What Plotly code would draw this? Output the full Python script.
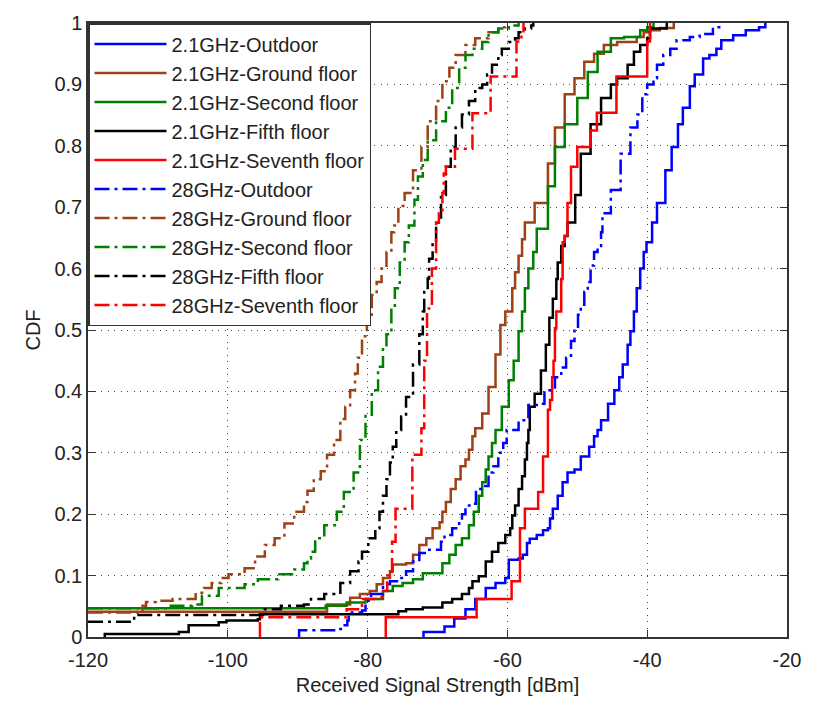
import plotly.graph_objects as go

# ---------------- data ----------------
series_names = [
    "2.1GHz-Outdoor", "2.1GHz-Ground floor", "2.1GHz-Second floor",
    "2.1GHz-Fifth floor", "2.1GHz-Seventh floor",
    "28GHz-Outdoor", "28GHz-Ground floor", "28GHz-Second floor",
    "28GHz-Fifth floor", "28GHz-Seventh floor",
]

# 2.1 GHz - Outdoor
out21_x = [-72.0, -72.0, -69.0, -67.6, -66.0, -64.6, -63.1, -61.7, -60.3, -59.8, -58.4, -57.8, -57.2,
           -56.8, -55.8, -54.9, -54.2, -53.9, -53.5, -52.8, -52.1, -51.4, -50.4, -49.5, -48.3, -47.6,
           -47.1, -46.6, -45.6, -44.7, -44.0, -43.5, -42.8, -42.4, -41.9, -41.5, -41.0, -40.5, -40.1,
           -39.3, -38.6, -37.4, -36.5, -35.6, -34.9, -33.9, -33.2, -32.0, -31.1, -30.1, -29.4, -27.7,
           -25.9, -24.0, -23.1]
out21_y = [0.0, 0.008, 0.017, 0.030, 0.045, 0.062, 0.080, 0.088, 0.096, 0.126, 0.128, 0.134, 0.153,
           0.160, 0.166, 0.174, 0.177, 0.193, 0.209, 0.230, 0.252, 0.268, 0.273, 0.294, 0.310, 0.327,
           0.337, 0.353, 0.380, 0.402, 0.423, 0.444, 0.476, 0.498, 0.530, 0.568, 0.600, 0.627, 0.643,
           0.675, 0.707, 0.760, 0.798, 0.835, 0.862, 0.897, 0.916, 0.942, 0.948, 0.958, 0.972, 0.980,
           0.988, 0.993, 1.0]

# 2.1 GHz - Ground floor
gnd21_x = [-120.0, -85.8, -82.5, -81.1, -79.7, -78.7, -77.8, -76.8, -76.4, -74.5, -73.5, -72.6, -71.6,
           -70.7, -69.7, -69.3, -68.8, -68.1, -67.4, -66.7, -66.0, -65.5, -65.0, -64.6, -63.6, -62.7,
           -61.7, -61.0, -60.3, -59.3, -58.9, -58.4, -57.9, -57.5, -56.1, -54.2, -53.2, -51.8, -50.4,
           -49.0, -47.6, -46.2, -44.3, -41.5, -40.5, -39.6, -38.2, -36.2]
gnd21_y = [0.041, 0.053, 0.064, 0.070, 0.075, 0.086, 0.096, 0.107, 0.118, 0.120, 0.134, 0.150, 0.161,
           0.177, 0.187, 0.204, 0.220, 0.241, 0.257, 0.278, 0.289, 0.305, 0.327, 0.340, 0.364, 0.407,
           0.460, 0.508, 0.530, 0.568, 0.594, 0.621, 0.648, 0.675, 0.707, 0.771, 0.830, 0.884, 0.910,
           0.937, 0.950, 0.964, 0.969, 0.977, 0.985, 0.988, 0.992, 1.0]

# 2.1 GHz - Second floor
sec21_x = [-120.0, -86.0, -83.0, -80.3, -77.8, -76.4, -75.0, -73.5, -72.1, -69.3, -68.3, -67.4, -66.5,
           -65.5, -64.8, -64.1, -63.6, -63.1, -62.7, -62.2, -61.7, -60.8, -59.8, -59.1, -58.4, -57.9,
           -57.5, -57.0, -56.3, -55.8, -54.2, -53.2, -51.8, -50.0, -48.5, -47.1, -45.2, -43.3, -41.0,
           -40.0, -39.1]
sec21_y = [0.047, 0.051, 0.056, 0.062, 0.075, 0.083, 0.088, 0.094, 0.104, 0.120, 0.134, 0.150, 0.161,
           0.182, 0.204, 0.230, 0.252, 0.273, 0.294, 0.316, 0.337, 0.375, 0.418, 0.450, 0.498, 0.530,
           0.568, 0.600, 0.627, 0.665, 0.734, 0.798, 0.835, 0.878, 0.920, 0.953, 0.975, 0.977, 0.988,
           0.993, 1.0]

# 2.1 GHz - Fifth floor
fif21_x = [-117.6, -117.6, -107.0, -105.6, -101.3, -100.2, -95.7, -95.4, -75.6, -74.5, -72.1, -69.3,
           -67.9, -66.5, -65.5, -65.0, -64.1, -63.1, -62.2, -61.3, -60.3, -59.6, -59.3, -58.9, -58.4,
           -57.9, -57.5, -57.2, -57.0, -56.8, -56.1, -55.2, -54.5, -54.0, -53.5, -53.0, -52.8, -52.3,
           -51.8, -51.4, -50.3, -49.5, -48.1, -46.6, -45.2, -44.3, -42.8, -41.9, -41.0, -40.0, -39.6,
           -37.2]
fif21_y = [0.0, 0.005, 0.008, 0.019, 0.024, 0.027, 0.029, 0.037, 0.042, 0.045, 0.048, 0.056,
           0.062, 0.070, 0.080, 0.091, 0.099, 0.123, 0.139, 0.153, 0.166, 0.177, 0.198, 0.214, 0.241,
           0.262, 0.289, 0.316, 0.337, 0.375, 0.396, 0.434, 0.476, 0.520, 0.551, 0.583, 0.610, 0.637,
           0.653, 0.675, 0.720, 0.787, 0.835, 0.878, 0.900, 0.910, 0.932, 0.953, 0.964, 0.975, 0.991,
           1.0]

# 2.1 GHz - Seventh floor
sev21_x = [-77.4, -77.4, -64.4, -59.4, -58.2, -57.5, -55.6, -54.9, -54.2, -53.9, -53.6, -53.4, -53.2,
           -53.0, -52.3, -52.1, -51.8, -51.4, -50.9, -50.0, -48.1, -47.2, -44.4, -40.0, -39.6]
sev21_y = [0.0, 0.032, 0.062, 0.091, 0.177, 0.209, 0.236, 0.294, 0.370, 0.386, 0.423, 0.450, 0.503,
           0.530, 0.583, 0.643, 0.653, 0.707, 0.766, 0.798, 0.825, 0.854, 0.913, 0.970, 1.0]

# 28 GHz - Outdoor
out28_x = [-89.8, -89.8, -84.5, -83.6, -82.9, -82.7, -80.8, -80.3, -79.5, -77.8, -76.8, -75.6, -74.5,
           -73.5, -72.6, -71.6, -69.5, -69.0, -67.9, -66.9, -66.5, -66.0, -65.0, -64.5, -63.6, -62.7,
           -62.0, -61.3, -60.6, -60.1, -58.4, -57.0, -55.6, -54.7, -53.2, -52.3, -51.6, -50.9, -50.4,
           -49.9, -49.5, -49.0, -48.5, -48.1, -47.6, -47.1, -46.6, -46.4, -45.2, -43.8, -42.4, -41.4,
           -40.7, -40.0, -39.1, -38.6, -37.7, -36.7, -35.8, -33.9, -32.5, -30.6, -29.7]
out28_y = [0.0, 0.011, 0.013, 0.019, 0.027, 0.040, 0.043, 0.059, 0.070, 0.086, 0.091, 0.096, 0.107,
           0.123, 0.137, 0.142, 0.155, 0.166, 0.177, 0.190, 0.200, 0.214, 0.217, 0.241, 0.246, 0.268,
           0.278, 0.300, 0.316, 0.337, 0.353, 0.378, 0.380, 0.402, 0.423, 0.439, 0.455, 0.482, 0.503,
           0.525, 0.541, 0.562, 0.578, 0.605, 0.627, 0.637, 0.659, 0.690, 0.728, 0.787, 0.830, 0.851,
           0.884, 0.900, 0.910, 0.932, 0.948, 0.958, 0.972, 0.977, 0.982, 0.993, 1.0]

# 28 GHz - Ground floor
gnd28_x = [-120.0, -112.2, -111.7, -110.3, -107.9, -104.6, -103.4, -102.3, -100.9, -99.9, -97.6, -96.1,
           -94.7, -93.3, -91.9, -90.5, -89.1, -88.6, -87.7, -86.7, -85.8, -84.8, -83.9, -83.2, -82.5,
           -81.8, -81.4, -80.8, -80.1, -79.4, -78.7, -78.0, -77.3, -76.6, -76.2, -75.6, -74.7, -73.5,
           -72.3, -71.4, -70.2, -69.3, -68.3, -67.4, -66.0, -64.6, -62.7, -61.3, -60.3]
gnd28_y = [0.040, 0.051, 0.057, 0.059, 0.062, 0.072, 0.080, 0.088, 0.096, 0.102, 0.112, 0.131,
           0.150, 0.161, 0.185, 0.204, 0.220, 0.238, 0.257, 0.270, 0.297, 0.321, 0.355, 0.375, 0.402,
           0.429, 0.455, 0.490, 0.525, 0.557, 0.578, 0.600, 0.627, 0.659, 0.670, 0.702, 0.723, 0.760,
           0.798, 0.840, 0.873, 0.905, 0.927, 0.948, 0.964, 0.975, 0.985, 0.993, 1.0]

# 28 GHz - Second floor
sec28_x = [-120.0, -108.4, -105.1, -103.7, -101.3, -97.6, -95.7, -92.8, -90.5, -89.1, -88.6, -88.1,
           -87.5, -86.2, -84.4, -83.4, -82.0, -81.1, -80.3, -79.4, -78.5, -77.8, -77.3, -76.6, -76.1,
           -75.4, -74.7, -74.1, -73.3, -72.8, -72.1, -71.4, -70.2, -68.8, -67.9, -66.9, -66.0, -65.0,
           -63.6, -62.7, -61.3, -59.8, -58.4]
sec28_y = [0.047, 0.051, 0.053, 0.067, 0.080, 0.086, 0.094, 0.102, 0.110, 0.120, 0.128, 0.139,
           0.161, 0.182, 0.204, 0.236, 0.268, 0.321, 0.360, 0.402, 0.440, 0.471, 0.493, 0.535, 0.568,
           0.610, 0.643, 0.670, 0.712, 0.750, 0.777, 0.809, 0.840, 0.862, 0.894, 0.927, 0.948, 0.958,
           0.969, 0.985, 0.991, 0.996, 1.0]

# 28 GHz - Fifth floor
fif28_x = [-120.0, -113.4, -94.7, -92.4, -89.1, -88.1, -86.2, -83.9, -82.5, -81.3, -80.8, -79.9, -78.9,
           -78.3, -77.8, -77.3, -76.8, -76.4, -75.9, -75.2, -74.5, -73.5, -72.6, -72.1, -71.9, -71.4,
           -71.2, -70.7, -70.2, -69.5, -68.8, -68.1, -67.4, -66.5, -65.5, -64.6, -63.6, -62.9, -62.2,
           -61.3, -60.8, -59.8, -58.9, -58.4, -57.5, -56.6, -56.3]
fif28_y = [0.025, 0.036, 0.045, 0.051, 0.053, 0.062, 0.070, 0.088, 0.107, 0.123, 0.139, 0.161, 0.177,
           0.204, 0.230, 0.257, 0.284, 0.310, 0.337, 0.359, 0.391, 0.444, 0.493, 0.530, 0.562, 0.584,
           0.616, 0.643, 0.675, 0.720, 0.766, 0.798, 0.830, 0.851, 0.873, 0.894, 0.900, 0.916, 0.932,
           0.948, 0.958, 0.969, 0.975, 0.985, 0.991, 0.996, 1.0]

# 28 GHz - Seventh floor
sev28_x = [-95.4, -95.4, -83.0, -80.8, -78.0, -77.2, -76.5, -76.0, -73.6, -72.3, -71.9, -71.5, -70.8,
           -70.2, -69.8, -69.3, -69.1, -68.8, -67.5, -65.0, -62.4, -58.7, -58.0, -57.7]
sev28_y = [0.0, 0.032, 0.045, 0.062, 0.075, 0.100, 0.155, 0.209, 0.297, 0.340, 0.450, 0.535, 0.600,
           0.675, 0.690, 0.723, 0.755, 0.766, 0.795, 0.853, 0.913, 0.970, 0.980, 1.0]

series_x = [out21_x, gnd21_x, sec21_x, fif21_x, sev21_x, out28_x, gnd28_x, sec28_x, fif28_x, sev28_x]
series_y = [out21_y, gnd21_y, sec21_y, fif21_y, sev21_y, out28_y, gnd28_y, sec28_y, fif28_y, sev28_y]

x_tick_vals = [-120, -100, -80, -60, -40, -20]
x_tick_text = ["-120", "-100", "-80", "-60", "-40", "-20"]
y_tick_vals = [0, 0.1, 0.2, 0.3, 0.4, 0.5, 0.6, 0.7, 0.8, 0.9, 1.0]
y_tick_text = ["0", "0.1", "0.2", "0.3", "0.4", "0.5", "0.6", "0.7", "0.8", "0.9", "1"]

# ---------------- styles ----------------
BROWN = "#9C4214"
colors = ["#0000FF", BROWN, "#008000", "#000000", "#FF0000"] * 2
DASHDOT = "15px,5px,3px,5px"
dashes = ["solid"] * 5 + [DASHDOT] * 5
FONT = "Liberation Sans, Arial, Helvetica, sans-serif"
TXT = "#222222"

fig = go.Figure()
for name, xs, ys, c, d in zip(series_names, series_x, series_y, colors, dashes):
    fig.add_trace(go.Scatter(
        x=xs, y=ys, name=name, mode="lines",
        line=dict(color=c, width=2.5, dash=d, shape="hv"),
    ))

axis_common = dict(
    showline=True, linecolor="#333333", linewidth=1.5, mirror="ticks",
    ticks="inside", ticklen=7, tickwidth=1.2, tickcolor="#333333",
    showgrid=True, gridcolor="#444444", gridwidth=1, griddash="1px,5.5px",
    zeroline=False, tickfont=dict(family=FONT, size=20, color=TXT),
)

fig.update_xaxes(range=[-120, -20], tickmode="array", tickvals=x_tick_vals, ticktext=x_tick_text,
                 ticklabelstandoff=4,
                 title=dict(text="Received Signal Strength [dBm]", standoff=8,
                            font=dict(family=FONT, size=20, color=TXT)),
                 **axis_common)
fig.update_yaxes(range=[0, 1], tickmode="array", tickvals=y_tick_vals, ticktext=y_tick_text,
                 title=dict(text="CDF", standoff=8, font=dict(family=FONT, size=20, color=TXT)),
                 **axis_common)

fig.update_layout(
    width=813, height=705,
    margin=dict(l=88, r=18, t=18, b=65),
    paper_bgcolor="white", plot_bgcolor="white",
    font=dict(family=FONT, size=20, color=TXT),
    showlegend=True,
    legend=dict(x=0, y=1, xanchor="left", yanchor="top",
                bgcolor="white", bordercolor="#333333", borderwidth=1.5,
                font=dict(family=FONT, size=20, color=TXT),
                itemwidth=72, tracegroupgap=0),
)

fig.write_html("out.html")
